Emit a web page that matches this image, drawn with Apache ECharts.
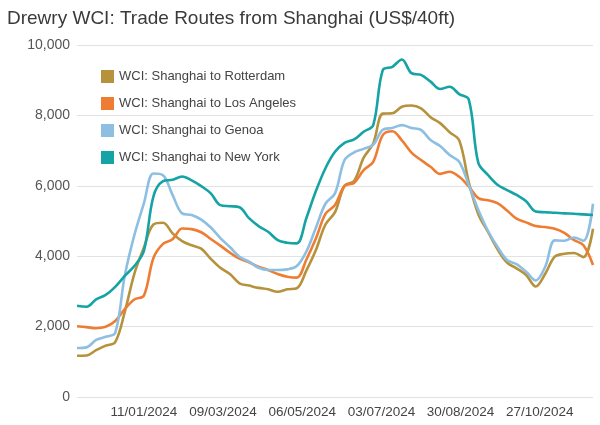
<!DOCTYPE html>
<html>
<head>
<meta charset="utf-8">
<script src="https://cdn.jsdelivr.net/npm/echarts@6/dist/echarts.min.js"></script>
<style>
  html, body { margin: 0; padding: 0; background: #fff; }
  #chart { width: 600px; height: 425px; }
</style>
</head>
<body>
<div id="chart"></div>
<script>
// weekly WCI dates (Thursdays)
const weeks = [
  '2023-11-23', '2023-11-30', '2023-12-07', '2023-12-14', '2023-12-21', '2023-12-28',
  '2024-01-04', '2024-01-11', '2024-01-18', '2024-01-25',
  '2024-02-01', '2024-02-08', '2024-02-15', '2024-02-22', '2024-02-29',
  '2024-03-07', '2024-03-14', '2024-03-21', '2024-03-28',
  '2024-04-04', '2024-04-11', '2024-04-18', '2024-04-25',
  '2024-05-02', '2024-05-09', '2024-05-16', '2024-05-23', '2024-05-30',
  '2024-06-06', '2024-06-13', '2024-06-20', '2024-06-27',
  '2024-07-04', '2024-07-11', '2024-07-18', '2024-07-25',
  '2024-08-01', '2024-08-08', '2024-08-15', '2024-08-22', '2024-08-29',
  '2024-09-05', '2024-09-12', '2024-09-19', '2024-09-26',
  '2024-10-03', '2024-10-10', '2024-10-17', '2024-10-24', '2024-10-31',
  '2024-11-07', '2024-11-14', '2024-11-21', '2024-11-28',
  '2024-12-05'
]

const rotterdam = [
  1170, 1180, 1330, 1460, 1560, 2420, 3500, 4250, 4900, 4950,
  4650, 4430, 4310, 4215, 3925, 3670, 3495, 3230, 3165, 3100,
  3060, 2990, 3060, 3090, 3590, 4175, 4900, 5250, 6000, 6140,
  6800, 7200, 8050, 8060, 8245, 8280, 8200, 7950, 7780, 7520,
  7290, 6100, 5190, 4695, 4200, 3820, 3655, 3465, 3140, 3500,
  3985, 4070, 4090, 3975, 4780
]

const losAngeles = [
  2010, 1985, 1955, 1995, 2160, 2500, 2770, 2880, 3950, 4350,
  4480, 4785, 4770, 4680, 4490, 4300, 4100, 3930, 3830, 3700,
  3607, 3493, 3417, 3390, 3900, 4500, 5200, 5453, 6000, 6080,
  6447, 6683, 7440, 7550, 7290, 6945, 6731, 6541, 6340, 6400,
  6255, 5980, 5650, 5590, 5505, 5300, 5065, 4960, 4855, 4830,
  4780, 4665, 4460, 4310, 3750
]

const genoa = [
  1390, 1410, 1620, 1710, 1820, 3450, 4600, 5500, 6350, 6300,
  5740, 5217, 5170, 5040, 4815, 4515, 4260, 3985, 3843, 3670,
  3607, 3607, 3626, 3720, 4130, 4810, 5490, 5785, 6731, 6950,
  7050, 7165, 7590, 7645, 7725, 7640, 7590, 7299, 7128, 6873,
  6683, 6021, 5311, 4723, 4268, 3891, 3777, 3559, 3310, 3700,
  4450, 4440, 4530, 4440, 5490
]

const newYork = [
  2590, 2565, 2775, 2900, 3130, 3440, 3720, 4150, 5700, 6130,
  6170, 6265, 6155, 5990, 5785, 5450, 5420, 5390, 5080, 4856,
  4695, 4459, 4382, 4365, 5080, 5850, 6500, 6967, 7220, 7318,
  7535, 7725, 9287, 9380, 9590, 9200, 9150, 8960, 8750, 8813,
  8605, 8450, 6650, 6310, 6030, 5880, 5740, 5560, 5270, 5250,
  5235, 5216, 5207, 5188, 5170
]

const tickDates = ['2024-01-11', '2024-03-09', '2024-05-06', '2024-07-03', '2024-08-30', '2024-10-27']

const seriesNames = [
  'WCI: Shanghai to Rotterdam',
  'WCI: Shanghai to Los Angeles',
  'WCI: Shanghai to Genoa',
  'WCI: Shanghai to New York'
]
const colors = ['#b5923b', '#ee7d33', '#8dbfe2', '#15a3a5']

const toTime = (s) => {
  let p = s.split('-').map(Number)
  return Date.UTC(p[0], p[1] - 1, p[2])
}
const pad = (n) => (n < 10 ? '0' : '') + n
const fmtDate = (v) => {
  let d = new Date(v)
  return pad(d.getUTCDate()) + '/' + pad(d.getUTCMonth() + 1) + '/' + d.getUTCFullYear()
}

const times = weeks.map(toTime)
const pairs = (vals) => vals.map((v, i) => [times[i], v])

let chart = echarts.init(document.getElementById('chart'))

const font = 'Liberation Sans, Arial, sans-serif'

let option = {
  color: colors,
  animation: false,
  textStyle: { fontFamily: font },
  title: {
    text: 'Drewry WCI: Trade Routes from Shanghai (US$/40ft)',
    left: 2,
    top: 4,
    textStyle: { fontSize: 19, fontWeight: 'normal', color: '#3a3a3a', fontFamily: font }
  },
  legend: {
    orient: 'vertical',
    left: 96,
    top: 65,
    itemWidth: 13,
    itemHeight: 13,
    itemGap: 14,
    icon: 'rect',
    data: seriesNames,
    textStyle: { fontSize: 13, color: '#444', fontFamily: font }
  },
  grid: {
    left: 77,
    right: 7,
    top: 45,
    bottom: 28,
    containLabel: false
  },
  xAxis: {
    type: 'value',
    min: times[0],
    max: times[times.length - 1],
    axisLine: { show: false },
    axisTick: { show: false },
    splitLine: { show: false },
    axisLabel: {
      customValues: tickDates.map(toTime),
      formatter: (v) => fmtDate(v),
      fontSize: 13.5,
      color: '#444',
      margin: 8,
      hideOverlap: false
    }
  },
  yAxis: {
    type: 'value',
    min: 0,
    max: 10000,
    interval: 2000,
    axisLine: { show: false },
    axisTick: { show: false },
    splitLine: { lineStyle: { color: '#e2e2e2', width: 1 } },
    axisLabel: {
      fontSize: 14,
      color: '#555',
      margin: 7,
      formatter: (v) => v.toLocaleString('en-US')
    }
  },
  series: [rotterdam, losAngeles, genoa, newYork].map((vals, i) => ({
    name: seriesNames[i],
    type: 'line',
    data: pairs(vals),
    smooth: 0.35,
    showSymbol: false,
    symbol: 'none',
    lineStyle: { width: 2.6, color: colors[i] }
  }))
}

chart.setOption(option)
</script>
</body>
</html>
